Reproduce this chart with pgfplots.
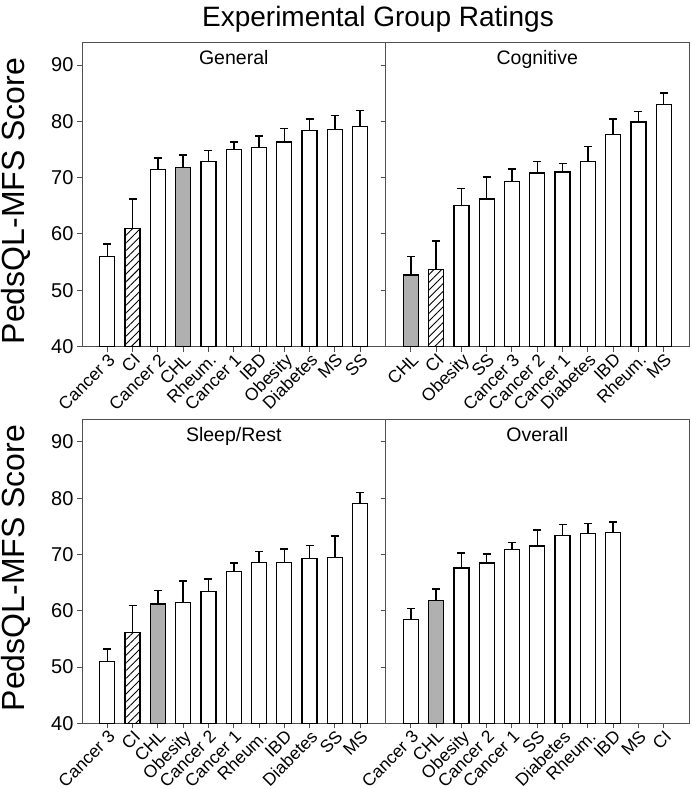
\documentclass[border=0pt]{standalone}
\usepackage{pgfplots}
\pgfplotsset{compat=1.18}
\usepackage{fontspec}
\setmainfont{Liberation Sans}
\usetikzlibrary{patterns.meta}
\definecolor{BarGray}{HTML}{B0B0B0}
\definecolor{Frame}{HTML}{505050}

\pgfplotsset{panel/.style={
  scale only axis, width=303.5pt, height=304pt,
  xmin=-1, xmax=11, ymin=40, ymax=94,
  ytick={40,50,...,90}, xtick={0,...,10},
  tick align=outside, ytick pos=left, xtick pos=bottom,
  major tick length=5pt,
  axis line style={Frame, line width=1pt},
  tick style={Frame, line width=1pt},
  ybar, bar width=15pt, bar shift=0pt,
  xticklabel style={rotate=45, anchor=north east, inner sep=0.5pt,
    font=\fontsize{17.5}{17.5}\selectfont},
  yticklabel style={font=\fontsize{20}{20}\selectfont},
  /pgf/number format/assume math mode=true,
  title style={at={(0.5,1)}, anchor=base, yshift=-28pt,
    font=\fontsize{19.5}{20}\selectfont},
  every axis plot/.append style={draw=black, line width=1.3pt,
    error bars/y dir=plus, error bars/y explicit,
    error bars/error mark=-,
    error bars/error mark options={black, rotate=90, mark size=4pt, line width=1.5pt},
    error bars/error bar style={black, line width=1.5pt}},
}}
\tikzset{
  plain/.style={fill=white},
  chl/.style={fill=BarGray},
  ci/.style={pattern={Lines[angle=45, distance=5.5pt, line width=0.9pt]}},
}

\begin{document}
\begin{tikzpicture}
\useasboundingbox (0,0) rectangle (691pt,-789pt);

% General
\begin{axis}[panel, at={(82pt,-346.5pt)}, anchor=south west, title={General},
  xticklabels={Cancer 3,CI,Cancer 2,CHL,Rheum.,Cancer 1,IBD,Obesity,Diabetes,MS,SS}]
\addplot[plain] coordinates {(0,56.0) +- (0,2.2) (2,71.5) +- (0,2.0) (4,72.9) +- (0,1.9)
  (5,75.0) +- (0,1.3) (6,75.4) +- (0,2.0) (7,76.3) +- (0,2.4) (8,78.4) +- (0,2.0)
  (9,78.6) +- (0,2.4) (10,79.1) +- (0,2.8)};
\addplot[ci] coordinates {(1,61.0) +- (0,5.2)};
\addplot[chl] coordinates {(3,71.8) +- (0,2.2)};
\end{axis}

% Cognitive
\begin{axis}[panel, at={(385.5pt,-346.5pt)}, anchor=south west, title={Cognitive},
  yticklabels={},
  xticklabels={CHL,CI,Obesity,SS,Cancer 3,Cancer 2,Cancer 1,Diabetes,IBD,Rheum.,MS}]
\addplot[chl] coordinates {(0,52.7) +- (0,3.3)};
\addplot[ci] coordinates {(1,53.7) +- (0,5.0)};
\addplot[plain] coordinates {(2,65.0) +- (0,3.1) (3,66.2) +- (0,3.9) (4,69.3) +- (0,2.2)
  (5,70.8) +- (0,2.1) (6,71.0) +- (0,1.5) (7,72.9) +- (0,2.6) (8,77.7) +- (0,2.7)
  (9,79.9) +- (0,1.8) (10,83.0) +- (0,2.0)};
\end{axis}

% Sleep/Rest
\begin{axis}[panel, at={(82pt,-723.3pt)}, anchor=south west, title={Sleep/Rest},
  xticklabels={Cancer 3,CI,CHL,Obesity,Cancer 2,Cancer 1,Rheum.,IBD,Diabetes,SS,MS}]
\addplot[plain] coordinates {(0,51.0) +- (0,2.2) (3,61.4) +- (0,3.9) (4,63.4) +- (0,2.2)
  (5,67.0) +- (0,1.5) (6,68.6) +- (0,1.9) (7,68.6) +- (0,2.4) (8,69.3) +- (0,2.3)
  (9,69.5) +- (0,3.8) (10,79.1) +- (0,1.9)};
\addplot[ci] coordinates {(1,56.1) +- (0,4.8)};
\addplot[chl] coordinates {(2,61.2) +- (0,2.4)};
\end{axis}

% Overall
\begin{axis}[panel, at={(385.5pt,-723.3pt)}, anchor=south west, title={Overall},
  yticklabels={},
  xticklabels={Cancer 3,CHL,Obesity,Cancer 2,Cancer 1,SS,Diabetes,Rheum.,IBD,MS,CI}]
\addplot[plain] coordinates {(0,58.5) +- (0,1.9) (2,67.6) +- (0,2.65) (3,68.5) +- (0,1.6)
  (4,70.9) +- (0,1.2) (5,71.5) +- (0,2.8) (6,73.4) +- (0,1.9) (7,73.7) +- (0,1.8)
  (8,73.9) +- (0,1.9)};
\addplot[chl] coordinates {(1,61.8) +- (0,2.1)};
\end{axis}

\node[anchor=base, font=\fontsize{28}{28}\selectfont] at (378pt,-27pt) {Experimental Group Ratings};
\node[rotate=90, anchor=base, font=\fontsize{32}{32}\selectfont] at (24pt,-201pt) {PedsQL-MFS Score};
\node[rotate=90, anchor=base, font=\fontsize{32}{32}\selectfont] at (24pt,-568pt) {PedsQL-MFS Score};
\end{tikzpicture}
\end{document}
